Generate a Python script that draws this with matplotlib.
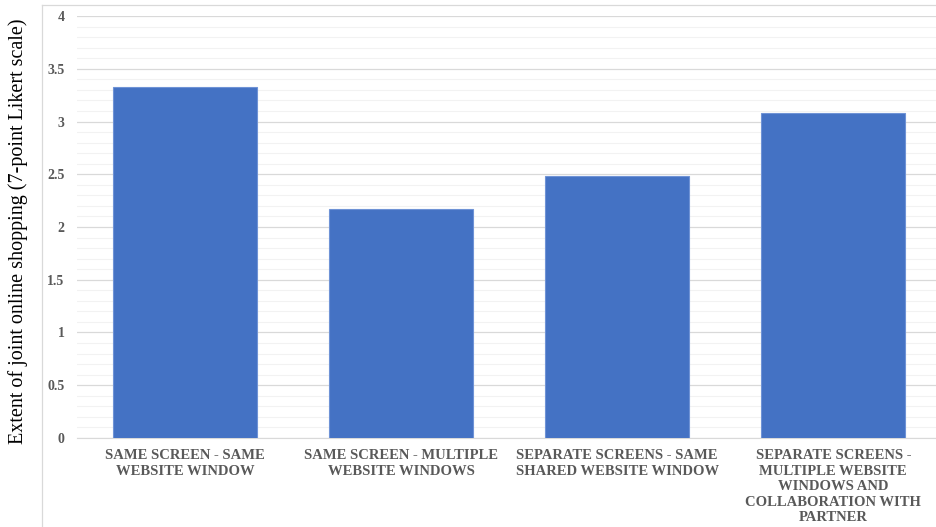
import matplotlib.pyplot as plt
from matplotlib.lines import Line2D
from matplotlib.ticker import MultipleLocator

### Data
categories = ['SAME SCREEN - SAME\nWEBSITE WINDOW',
              'SAME SCREEN - MULTIPLE\nWEBSITE WINDOWS',
              'SEPARATE SCREENS - SAME\nSHARED WEBSITE WINDOW',
              'SEPARATE SCREENS -\nMULTIPLE WEBSITE\nWINDOWS AND\nCOLLABORATION WITH\nPARTNER']
values = [3.33, 2.17, 2.48, 3.08]
y_ticks = [0, 0.5, 1, 1.5, 2, 2.5, 3, 3.5, 4]
y_tick_labels = ['0', '0.5', '1', '1.5', '2', '2.5', '3', '3.5', '4']

plt.rcParams['font.family'] = ['Liberation Serif', 'DejaVu Serif']

fig = plt.figure(figsize=(9.37, 5.27), dpi=100)
ax = fig.add_axes([0.0822, 0.1689, 0.9178, 0.8007])

x = list(range(len(categories)))
ax.bar(x, values, width=0.667, color='#4472c4', edgecolor='#6f93d6', linewidth=0.8, zorder=3)

ax.set_xlim(-0.5, 3.48)
ax.set_ylim(0, 4)
ax.set_yticks(y_ticks)
ax.set_yticklabels(y_tick_labels, fontsize=10, fontweight='bold', color='#595959')
ax.yaxis.set_minor_locator(MultipleLocator(0.1))
ax.grid(axis='y', which='major', color='#d9d9d9', linewidth=0.9, zorder=0)
ax.grid(axis='y', which='minor', color='#f2f2f2', linewidth=0.8, zorder=0)
ax.tick_params(axis='both', which='both', length=0)
ax.tick_params(axis='y', pad=9)

ax.set_xticks(x)
ax.set_xticklabels(categories, fontsize=10.5, fontweight='bold', color='#595959',
                   linespacing=1.25, multialignment='center')
ax.tick_params(axis='x', pad=8)

for s in ['top', 'right', 'left']:
    ax.spines[s].set_visible(False)
ax.spines['bottom'].set_color('#d9d9d9')

# outer chart frame
fig.add_artist(Line2D([42/937, 42/937], [0, 1 - 5/527], color='#d9d9d9', linewidth=0.9))
fig.add_artist(Line2D([42/937, 1], [1 - 5/527, 1 - 5/527], color='#d9d9d9', linewidth=0.9))

fig.text(18/937, 0.562, 'Extent of joint online shopping (7-point Likert scale)',
         rotation=90, ha='center', va='center', fontsize=14.5, color='black')

plt.savefig('out.png', dpi=100)
